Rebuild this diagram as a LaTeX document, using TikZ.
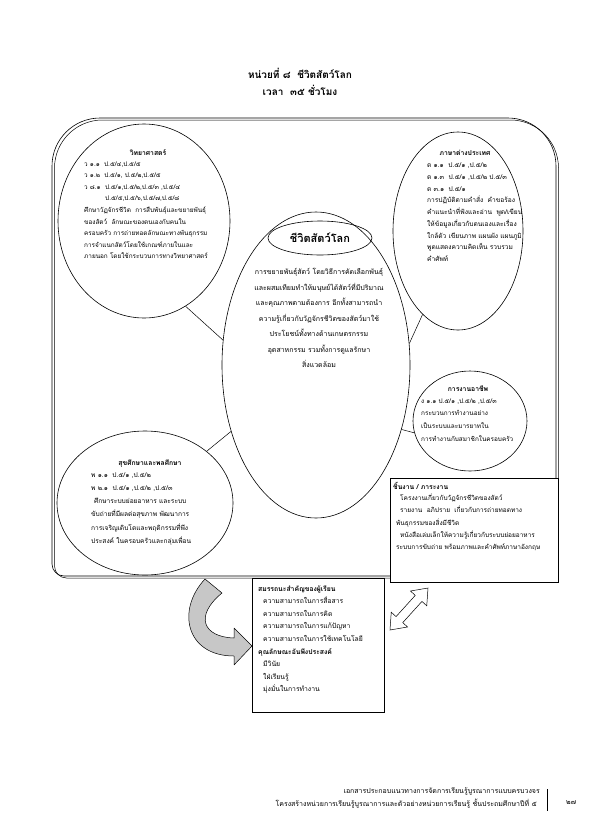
\documentclass[tikz,border=0pt]{standalone}
\usepackage{fontspec}
\setmainfont{Loma}[Script=Thai]
\usetikzlibrary{shapes.geometric}
\newcommand\lblock[2]{\vtop{\baselineskip=#1\lineskiplimit=-40pt\lineskip=0pt\halign{##\hfil\cr#2\crcr}}}
\newcommand\cblock[2]{\vtop{\baselineskip=#1\lineskiplimit=-40pt\lineskip=0pt\halign{\hfil##\hfil\cr#2\crcr}}}
\newcommand\framepath{(556,576) -- (556,166) .. controls (556,139.5) and (534.5,118) .. (508,118) -- (100,118) .. controls (73.5,118) and (52,139.5) .. (52,166) -- (52,564) .. controls (52,570.6) and (57.4,576) .. (64,576) -- cycle}
\begin{document}
\begin{tikzpicture}[x=1pt,y=-1pt,
  ell/.style={draw, ellipse, inner sep=0pt, line width=0.6pt},
  txt/.style={font=\fontsize{6.8}{9}\selectfont, inner sep=0pt, anchor=base west},
  ttl/.style={font=\fontsize{6.8}{9}\selectfont\bfseries, inner sep=0pt, anchor=base},
  box/.style={draw, fill=white, line width=0.6pt, inner sep=0pt, anchor=north west},
  conn/.style={line width=0.5pt}]
\useasboundingbox (0,0) rectangle (595,836);
% title
\node[inner sep=0pt, anchor=base, font=\fontsize{10}{12}\selectfont\bfseries] (t1) at (300,78) {หน่วยที่ ๘ \ ชีวิตสัตว์โลก};
\node[inner sep=0pt, anchor=base, font=\fontsize{10}{12}\selectfont\bfseries] (t2) at (300,95) {เวลา \ ๓๕ ชั่วโมง};
% frame
\draw[line width=0.6pt] \framepath;
\draw[line width=0.5pt, shift={(2.5,2)}] \framepath;
% ellipses
\node[ell, minimum width=172pt, minimum height=194pt] (sci) at (144,221) {};
\node[ell, minimum width=130pt, minimum height=198pt] (lang) at (458,231) {};
\node[ell, minimum width=188pt, minimum height=306pt] (ctr) at (316,365) {};
\node[ell, minimum width=104pt, minimum height=34pt] (sm) at (320,238) {};
\node[ell, minimum width=114pt, minimum height=100pt] (work) at (470,421) {};
\node[ell, minimum width=176pt, minimum height=144pt] (health) at (145,503) {};
% connectors
\draw[conn] (sci.-64.3) -- (ctr.165);
\draw[conn] (lang.-113.5) -- (ctr.13.9);
\draw[conn] (ctr.-37.4) -- (work.-168);
\draw[conn] (ctr.-142.6) -- (health.40.5);
% science
\node[ttl] (scit) at (148,155) {วิทยาศาสตร์};
\node[txt, font=\fontsize{6.4}{9}\selectfont] (scib) at (84,166) {\lblock{11.6pt}{%
ว ๑.๑ \ ป.๕/๔,ป.๕/๕\cr
ว ๑.๒ \ ป.๕/๑, ป.๕/๒,ป.๕/๕\cr
ว ๘.๑ \ ป.๕/๑,ป.๕/๒,ป.๕/๓ ,ป.๕/๔\cr
\hskip 21pt ป.๕/๕,ป.๕/๖,ป.๕/๗,ป.๕/๘\cr
ศึกษาวัฏจักรชีวิต \ การสืบพันธุ์และขยายพันธุ์\cr
ของสัตว์ \ ลักษณะของตนเองกับคนใน\cr
ครอบครัว การถ่ายทอดลักษณะทางพันธุกรรม\cr
การจำแนกสัตว์โดยใช้เกณฑ์ภายในและ\cr
ภายนอก โดยใช้กระบวนการทางวิทยาศาสตร์}};
% language
\node[ttl] (langt) at (465,155.5) {ภาษาต่างประเทศ};
\node[txt, font=\fontsize{6.6}{9}\selectfont] (langb) at (427,167.5) {\lblock{11.75pt}{%
ต ๑.๑ \ ป.๕/๑ ,ป.๕/๒\cr
ต ๑.๓ \ ป.๕/๑ ,ป.๕/๒ ป.๕/๓\cr
ต ๓.๑ \ ป.๕/๑\cr
การปฏิบัติตามคำสั่ง \ คำขอร้อง\cr
คำแนะนำที่ฟังและอ่าน \ พูด/เขียน\cr
ให้ข้อมูลเกี่ยวกับตนเองและเรื่อง\cr
ใกล้ตัว เขียนภาพ แผนผัง แผนภูมิ\cr
พูดแสดงความคิดเห็น รวบรวม\cr
คำศัพท์}};
% centre
\node[inner sep=0pt, anchor=base, font=\fontsize{11}{13}\selectfont\bfseries] (ctrt) at (320,242) {ชีวิตสัตว์โลก};
\node[inner sep=0pt, anchor=base, font=\fontsize{7}{9}\selectfont] (ctrb) at (319,274.5) {\cblock{15.5pt}{%
การขยายพันธุ์สัตว์ โดยวิธีการคัดเลือกพันธุ์\cr
และผสมเทียมทำให้มนุษย์ได้สัตว์ที่มีปริมาณ\cr
และคุณภาพตามต้องการ อีกทั้งสามารถนำ\cr
ความรู้เกี่ยวกับวัฏจักรชีวิตของสัตว์มาใช้\cr
ประโยชน์ทั้งทางด้านเกษตรกรรม\cr
อุตสาหกรรม รวมทั้งการดูแลรักษา\cr
สิ่งแวดล้อม}};
% work
\node[ttl] (workt) at (468,391.5) {การงานอาชีพ};
\node[txt, font=\fontsize{6.4}{9}\selectfont] (workb) at (421,403) {\lblock{12.8pt}{%
ง ๑.๑ ป.๕/๑ ,ป.๕/๒ ,ป.๕/๓\cr
กระบวนการทำงานอย่าง\cr
เป็นระบบและมารยาทใน\cr
การทำงานกับสมาชิกในครอบครัว}};
% health
\node[ttl] (healtht) at (150,465) {สุขศึกษาและพลศึกษา};
\node[txt, font=\fontsize{6.6}{9}\selectfont] (healthb) at (91,477) {\lblock{13.3pt}{%
พ ๑.๑ \ ป.๕/๑ ,ป.๕/๒\cr
พ ๒.๑ \ ป.๕/๑ ,ป.๕/๒ ,ป.๕/๓\cr
\hskip 3pt ศึกษาระบบย่อยอาหาร และระบบ\cr
ขับถ่ายที่มีผลต่อสุขภาพ พัฒนาการ\cr
การเจริญเติบโตและพฤติกรรมที่พึง\cr
ประสงค์ ในครอบครัวและกลุ่มเพื่อน}};
% task box
\node[box, minimum width=168pt, minimum height=104pt] (task) at (390,478) {};
\node[txt, font=\fontsize{6.8}{9}\selectfont\bfseries] (taskt) at (393,489) {ชิ้นงาน / ภาระงาน};
\node[txt, font=\fontsize{6.5}{9}\selectfont] (taskb) at (396,500.5) {\lblock{12.3pt}{%
\hskip 4pt โครงงานเกี่ยวกับวัฏจักรชีวิตของสัตว์\cr
\hskip 4pt รายงาน \ อภิปราย \ เกี่ยวกับการถ่ายทอดทาง\cr
พันธุกรรมของสิ่งมีชีวิต\cr
\hskip 4pt หนังสือเล่มเล็กให้ความรู้เกี่ยวกับระบบย่อยอาหาร\cr
ระบบการขับถ่าย พร้อมภาพและคำศัพท์ภาษาอังกฤษ}};
% competency box
\node[box, minimum width=132pt, minimum height=134pt] (comp) at (252,578) {};
\node[txt] (compb) at (258,591) {\lblock{12.6pt}{%
\textbf{สมรรถนะสำคัญของผู้เรียน}\cr
\hskip 5pt ความสามารถในการสื่อสาร\cr
\hskip 5pt ความสามารถในการคิด\cr
\hskip 5pt ความสามารถในการแก้ปัญหา\cr
\hskip 5pt ความสามารถในการใช้เทคโนโลยี\cr
\textbf{คุณลักษณะอันพึงประสงค์}\cr
\hskip 5pt มีวินัย\cr
\hskip 5pt ใฝ่เรียนรู้\cr
\hskip 5pt มุ่งมั่นในการทำงาน}};
% curved grey arrow
\draw[fill=black!22, line width=0.5pt, line join=round] (205,579) .. controls (176,610) and (186,656) .. (234,656) -- (234,665) -- (252,646) -- (234,628) -- (234,638) .. controls (203,637) and (194,616) .. (222,593) -- cycle;
% double arrow
\draw[fill=white, line width=0.5pt, line join=miter] (390,630) -- (407.56,626.99) -- (402.74,622.63) -- (421.94,601.41) -- (426.76,605.77) -- (428,588) -- (410.44,591.01) -- (415.26,595.37) -- (396.06,616.59) -- (391.24,612.23) -- cycle;
% footer
\node[txt, font=\fontsize{7}{9}\selectfont, anchor=base east] (ft1) at (540,793) {เอกสารประกอบแนวทางการจัดการเรียนรู้บูรณาการแบบครบวงจร};
\node[txt, font=\fontsize{7}{9}\selectfont, anchor=base east] (ft2) at (537,806) {โครงสร้างหน่วยการเรียนรู้บูรณาการและตัวอย่างหน่วยการเรียนรู้ ชั้นประถมศึกษาปีที่ ๕};
\coordinate (bar1) at (547,789);
\coordinate (bar2) at (547,811);
\draw[line width=0.6pt] (bar1) -- (bar2);
\node[txt, font=\fontsize{7}{9}\selectfont] (pg) at (566,804) {๒๗};
\end{tikzpicture}
\end{document}
